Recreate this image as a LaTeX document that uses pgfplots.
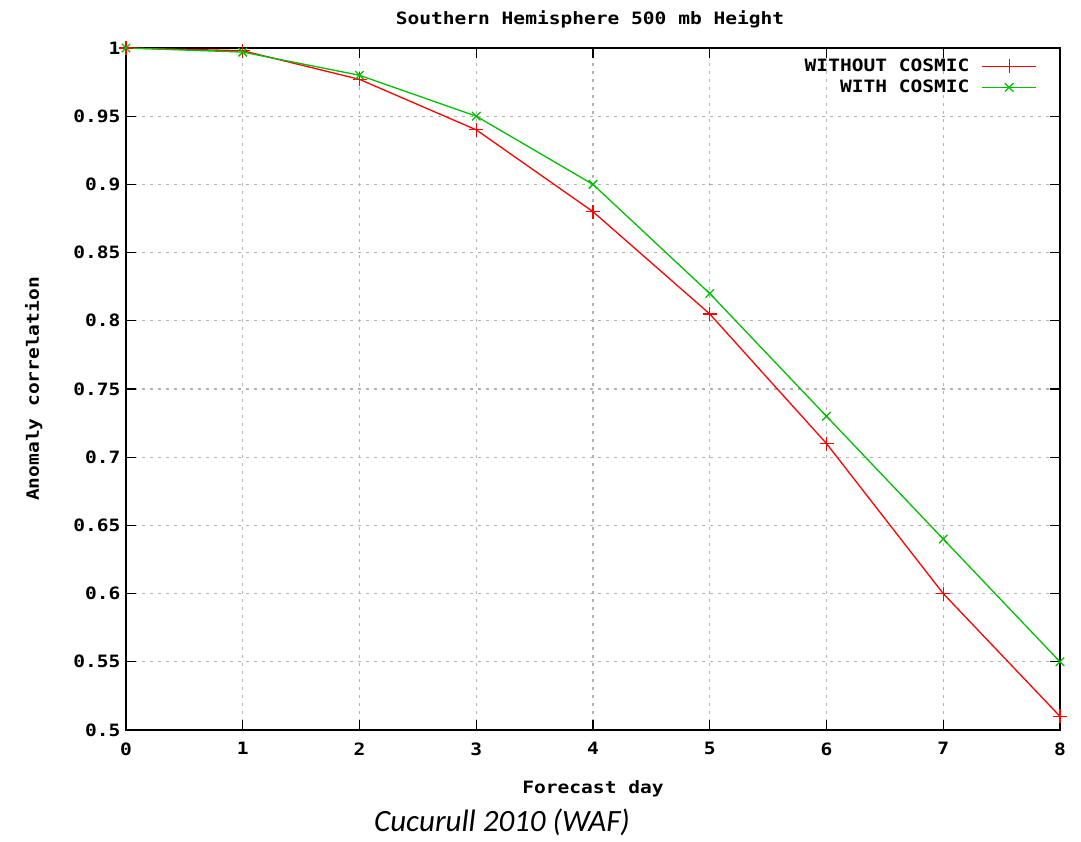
\documentclass[border=0pt]{standalone}
\usepackage{fontspec}
\usepackage{pgfplots}
\pgfplotsset{compat=1.18}
\newfontfamily\gp{DejaVu Sans Mono}[FakeStretch=1.15]
\newfontfamily\capfont{Carlito}
\definecolor{gpgreen}{RGB}{0,192,0}
\definecolor{gpred}{RGB}{255,0,0}
\begin{document}
\begin{tikzpicture}[x=1pt,y=1pt]
\useasboundingbox (-126,-112) rectangle (955,730);
\begin{axis}[
  at={(0,0)}, anchor=south west,
  scale only axis, width=934pt, height=682pt,
  xmin=0, xmax=8, ymin=0.5, ymax=1,
  xtick={0,1,2,3,4,5,6,7,8},
  xticklabels={0,1,2,3,4,5,6,7,8},
  ytick={0.5,0.55,0.6,0.65,0.7,0.75,0.8,0.85,0.9,0.95,1},
  yticklabels={0.5,0.55,0.6,0.65,0.7,0.75,0.8,0.85,0.9,0.95,1},
  tick label style={font=\gp\bfseries\fontsize{17}{20}\selectfont},
  xticklabel style={yshift=-9pt},
  yticklabel style={xshift=-2pt},
  major tick length=10pt,
  tick style={black, line width=1.2pt},
  axis line style={black, line width=1.8pt},
  grid=major,
  major grid style={gray!60, line width=1.3pt, dash pattern=on 3pt off 5pt},
  xlabel={Forecast day},
  ylabel={Anomaly correlation},
  label style={font=\gp\bfseries\fontsize{17}{20}\selectfont},
  xlabel style={yshift=-18pt},
  ylabel style={yshift=24pt},
  legend style={draw=none, fill=none, at={(rel axis cs:1,1)}, anchor=north east,
    xshift=-20pt, yshift=-7pt,
    font=\gp\bfseries\fontsize{17}{20}\selectfont, row sep=3pt,
    /tikz/column sep=10pt},
  legend cell align=right,
  legend plot pos=right,
  legend image code/.code={\draw[mark repeat=2,mark phase=2] plot coordinates {(0pt,0pt) (27pt,0pt) (54pt,0pt)};},
]
\addplot[gpred, line width=1.3pt, mark=+, mark size=7pt, mark options={line width=1.3pt}]
  coordinates {(0,1.0) (1,0.998) (2,0.977) (3,0.94) (4,0.88) (5,0.805) (6,0.71) (7,0.60) (8,0.51)};
\addlegendentry{WITHOUT COSMIC}
\addplot[gpgreen, line width=1.3pt, mark=x, mark size=6pt, mark options={line width=1.3pt}]
  coordinates {(0,1.0) (1,0.997) (2,0.98) (3,0.95) (4,0.90) (5,0.82) (6,0.73) (7,0.64) (8,0.55)};
\addlegendentry{WITH COSMIC}
\end{axis}
\node[font=\gp\bfseries\fontsize{17}{20}\selectfont] at (464,711) {Southern Hemisphere 500 mb Height};
\node[font=\capfont\itshape\fontsize{31}{35}\selectfont] at (376,-92) {Cucurull 2010 (WAF)};
\end{tikzpicture}
\end{document}
